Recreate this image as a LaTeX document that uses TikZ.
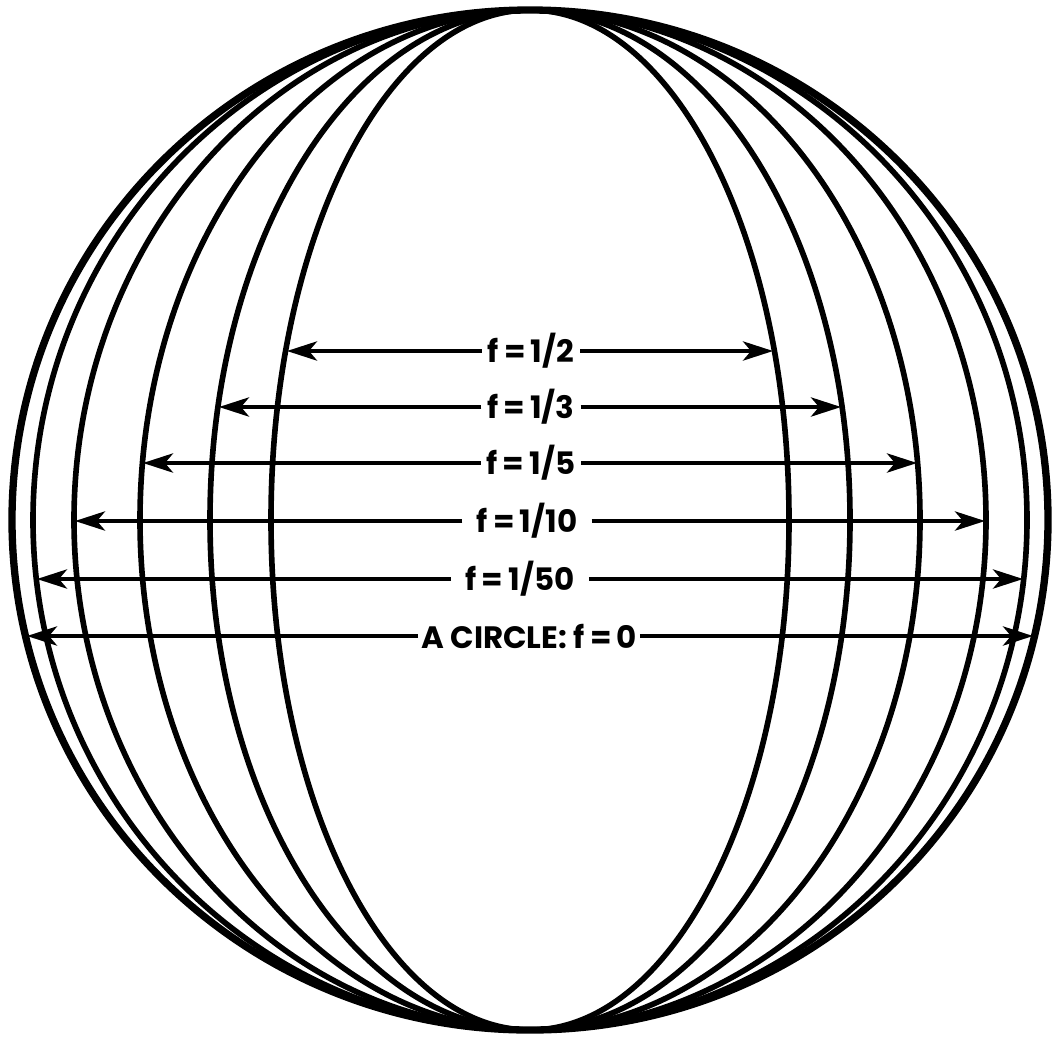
\documentclass[tikz,border=0pt]{standalone}
\usepackage{fontspec}
\setmainfont{Poppins}
\usetikzlibrary{arrows.meta}
\begin{document}
\begin{tikzpicture}[
    x=0.025cm, y=-0.025cm,
    outline/.style={line width=5.2pt},
    meridian/.style={line width=4pt},
    dimArrow/.style={-{Stealth[length=7.5mm,width=4.8mm,inset=2mm]},line width=2.8pt},
    fLabel/.style={font=\bfseries\fontsize{22}{26}\selectfont,inner xsep=4pt,inner ysep=2pt},
    fLabelWide/.style={fLabel,inner xsep=10pt},
    fLabelTight/.style={fLabel,inner xsep=2pt},
]
\useasboundingbox (0,0) rectangle (1058,1041);
% === circle and meridian ellipses ===
\coordinate (C) at (530,520);
\draw[outline] (C) ellipse [x radius=518, y radius=510];
\draw[meridian] (C) ellipse [x radius=497, y radius=510];
\draw[meridian] (C) ellipse [x radius=456, y radius=510];
\draw[meridian] (C) ellipse [x radius=390, y radius=510];
\draw[meridian] (C) ellipse [x radius=320, y radius=510];
\draw[meridian] (C) ellipse [x radius=259, y radius=510];
% === arrow ends on the curves ===
\coordinate (halfL) at (287,351);   \coordinate (halfR) at (773,351);
\coordinate (thirdL) at (219,407);  \coordinate (thirdR) at (841,407);
\coordinate (fifthL) at (143,463);  \coordinate (fifthR) at (917,463);
\coordinate (tenthL) at (75,521);   \coordinate (tenthR) at (985,521);
\coordinate (fiftiethL) at (37,579); \coordinate (fiftiethR) at (1023,579);
\coordinate (circL) at (27,636);    \coordinate (circR) at (1033,636);
% === labels ===
\node[fLabel] (lblHalf) at (531,351) {f\,=\,1/2};
\node[fLabel] (lblThird) at (531,407) {f\,=\,1/3};
\node[fLabel] (lblFifth) at (531,463) {f\,=\,1/5};
\node[fLabelWide] (lblTenth) at (527,521) {f\,=\,1/10};
\node[fLabelWide] (lblFiftieth) at (520,579) {f\,=\,1/50};
\node[fLabelTight] (lblCirc) at (529,636) {A CIRCLE: f\,=\,0};
% === dimension arrows ===
\draw[dimArrow] (lblHalf) -- (halfL);
\draw[dimArrow] (lblHalf) -- (halfR);
\draw[dimArrow] (lblThird) -- (thirdL);
\draw[dimArrow] (lblThird) -- (thirdR);
\draw[dimArrow] (lblFifth) -- (fifthL);
\draw[dimArrow] (lblFifth) -- (fifthR);
\draw[dimArrow] (lblTenth) -- (tenthL);
\draw[dimArrow] (lblTenth) -- (tenthR);
\draw[dimArrow] (lblFiftieth) -- (fiftiethL);
\draw[dimArrow] (lblFiftieth) -- (fiftiethR);
\draw[dimArrow] (lblCirc) -- (circL);
\draw[dimArrow] (lblCirc) -- (circR);
\end{tikzpicture}
\end{document}
